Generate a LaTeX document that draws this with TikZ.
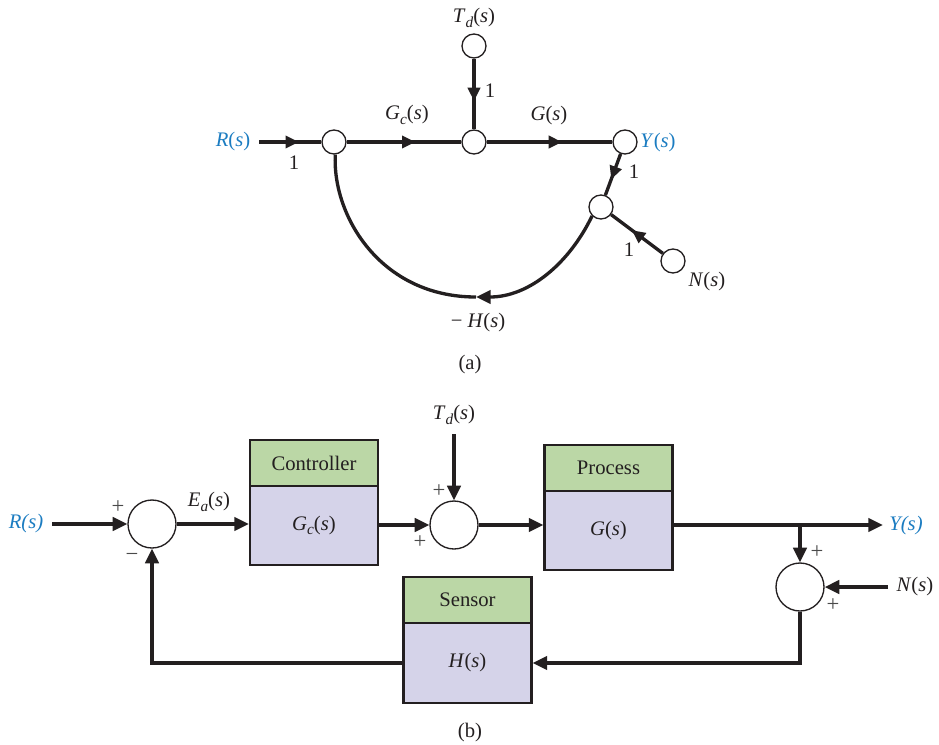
\documentclass[tikz,border=0pt]{standalone}
\usepackage{fontspec}
\setmainfont{Liberation Serif}
\usetikzlibrary{arrows.meta,decorations.markings}
\definecolor{ln}{HTML}{231F20}
\definecolor{bl}{HTML}{1B7CC1}
\definecolor{gr}{HTML}{BBD7A6}
\definecolor{pu}{HTML}{D5D3E9}
\definecolor{sg}{HTML}{4A4A4A}
\newcommand{\fnl}[2]{\textit{#1}\raisebox{-0.45ex}{\fontsize{11.5}{12}\selectfont\textit{#2}}(\textit{s})}
\newcommand{\fnn}[1]{\textit{#1}(\textit{s})}
\tikzset{
  every node/.style={font=\fontsize{15.5}{18}\selectfont, text=ln, inner sep=1pt},
  sigl/.style={line width=2.5pt, draw=ln},
  tipped/.style={-{Triangle[length=11pt,width=10pt]}},
  smallnode/.style={circle, draw=ln, fill=white, line width=1pt, minimum size=18pt, inner sep=0pt},
  sumnode/.style={circle, draw=ln, fill=white, line width=1pt, minimum size=36pt, inner sep=0pt},
  midarrow/.style={postaction={decorate}, decoration={markings, mark=at position #1 with {\arrow{Triangle[length=10pt,width=9pt]}}}},
  greenbox/.style={draw=ln, fill=gr, line width=1.6pt, minimum width=96pt, minimum height=34.5pt, inner sep=0pt},
  purplebox/.style={draw=ln, fill=pu, line width=1.6pt, minimum width=96pt, inner sep=0pt},
  pm/.style={font=\fontsize{17}{18}\selectfont, text=sg},
}
\begin{document}
\begin{tikzpicture}[x=0.75pt,y=-0.75pt]
\useasboundingbox (0,0) rectangle (939,744);

% ---------------- (a) signal flow graph ----------------
\node[smallnode] (n1) at (334,142) {};
\node[smallnode] (n2) at (474,142) {};
\node[smallnode] (ntd) at (474,46) {};
\node[smallnode] (ny) at (625,142) {};
\node[smallnode] (n4) at (601,207) {};
\node[smallnode] (nn) at (673,261) {};

\node[text=bl] (Ra) at (233,142) {\textit{R}(\textit{s})};
\coordinate (ra0) at (259,142);
\node (Tda) at (474,18) {\fnl{T}{d}};
\node (Gca) at (407,115) {\fnl{G}{c}};
\node (Ga) at (549,116) {\fnn{G}};
\node[text=bl] (Ya) at (658,143) {\fnn{Y}};
\node (Na) at (707,282) {\fnn{N}};
\node (Ha) at (478,323) {− \fnn{H}};
\node (one1) at (294,163) {1};
\node (one2) at (490,91) {1};
\node (one3) at (634,172) {1};
\node (one4) at (629,250) {1};
\node (capa) at (470,365) {(a)};
\coordinate (hb) at (476,297);

\draw[sigl, midarrow=0.64] (ra0) -- (n1);
\draw[sigl, midarrow=0.6] (n1) -- (n2);
\draw[sigl, midarrow=0.6] (n2) -- (ny);
\draw[sigl, midarrow=0.6] (ntd) -- (n2);
\draw[sigl, midarrow=0.62] (ny) -- (n4);
\draw[sigl, midarrow=0.6] (nn) -- (n4);
\draw[sigl, tipped] (n4.225) .. controls (570,262) and (530,297) .. (hb);
\draw[sigl] (hb) .. controls (380,297) and (332,215) .. (n1.-84);

% ---------------- (b) block diagram ----------------
\node[sumnode] (s1) at (152,524) {};
\node[sumnode] (s2) at (454,525) {};
\node[sumnode] (s3) at (800,587) {};

\node[greenbox] (ctrlT) at (314,463) {Controller};
\node[purplebox, minimum height=59.25pt] (ctrlB) at (314,525.5) {\fnl{G}{c}};
\node[greenbox] (procT) at (608.5,468) {Process};
\node[purplebox, minimum height=59.25pt] (procB) at (608.5,530.5) {\fnn{G}};
\node[greenbox] (sensT) at (467.5,600) {Sensor};
\node[purplebox, minimum height=60pt] (sensB) at (467.5,663) {\fnn{H}};

\node[text=bl] (Rb) at (26,524) {\textit{R(s)}};
\node[text=bl] (Yb) at (906,526) {\textit{Y(s)}};
\node (Nb) at (915,587) {\fnn{N}};
\node (Tdb) at (454,415) {\fnl{T}{d}};
\node (Eab) at (209,502) {\fnl{E}{a}};
\node[pm] (p1) at (118,507) {+};
\node[pm] (m1) at (132,557) {−};
\node[pm] (p2) at (439,491) {+};
\node[pm] (p3) at (420,542) {+};
\node[pm] (p4) at (817,552) {+};
\node[pm] (p5) at (833,605) {+};
\node (capb) at (470,733) {(b)};

\coordinate (rb0) at (52,524);
\coordinate (td0) at (454,434);
\coordinate (yb1) at (883,525);
\coordinate (br) at (800,525);
\coordinate (nb0) at (888,587);
\coordinate (c1) at (800,663);
\coordinate (c2) at (152,663);

\draw[sigl, tipped] (rb0) -- (s1.west);
\draw[sigl, tipped] (s1.east) -- (ctrlB.west |- s1.east);
\draw[sigl, tipped] (ctrlB.east |- s2.west) -- (s2.west);
\draw[sigl, tipped] (td0) -- (s2.north);
\draw[sigl, tipped] (s2.east) -- (procB.west |- s2.east);
\draw[sigl, tipped] (procB.east |- br) -- (yb1);
\draw[sigl, tipped] (br) -- (s3.north);
\draw[sigl, tipped] (nb0) -- (s3.east);
\draw[sigl, tipped] (s3.south) -- (c1) -- (sensB.east |- c1);
\draw[sigl, tipped] (sensB.west |- c2) -- (c2) -- (s1.south);
\end{tikzpicture}
\end{document}
